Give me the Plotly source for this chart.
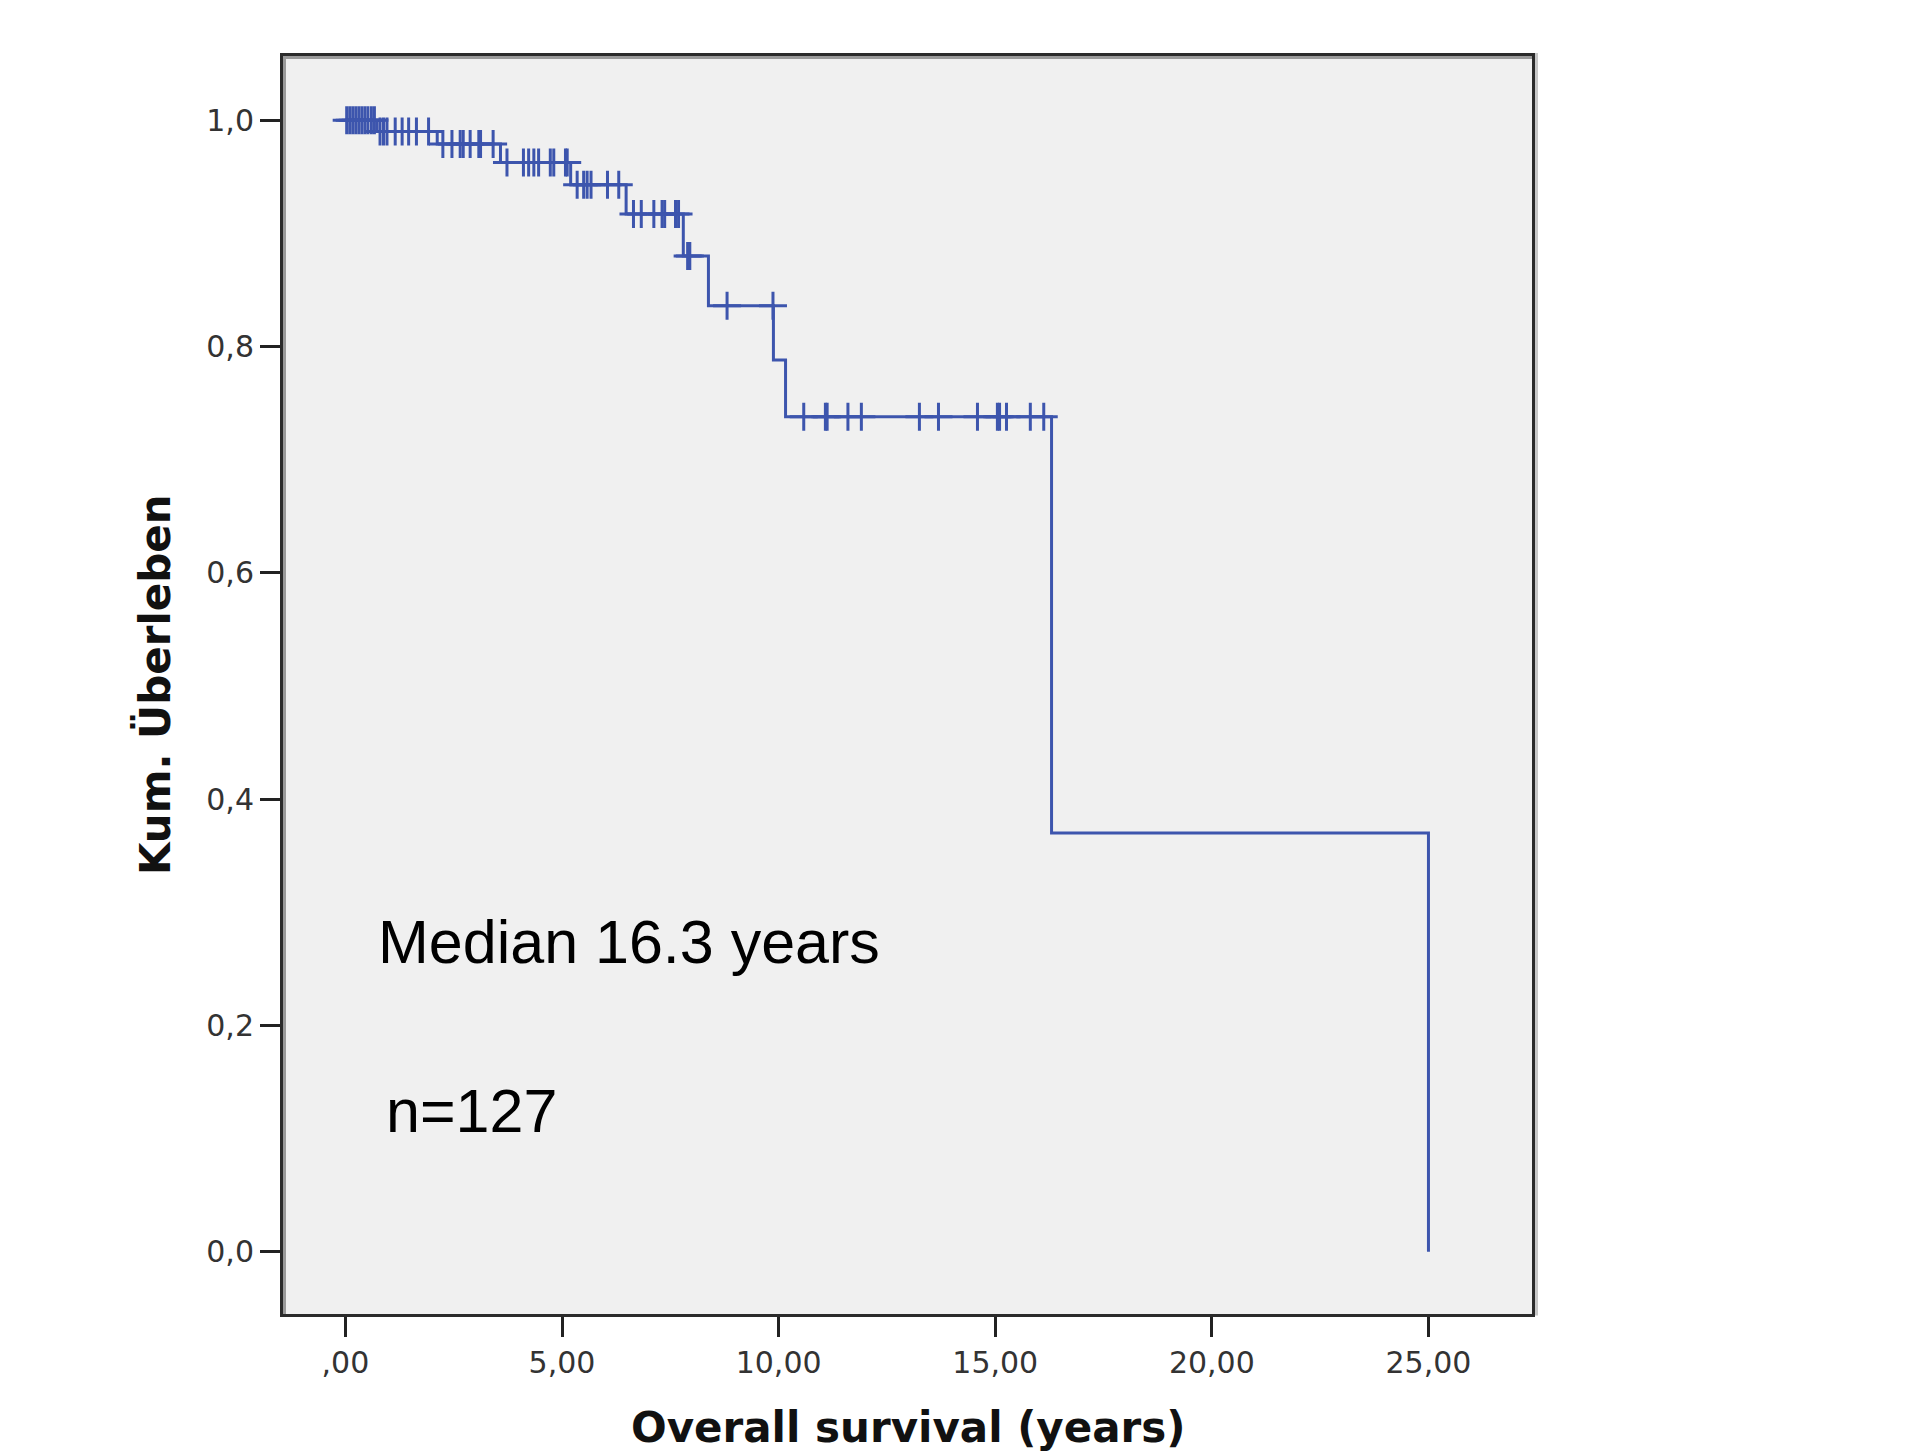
import plotly.graph_objects as go

# Kaplan-Meier overall survival, n = 127
median_years = 16.3
n_patients = 127

# step times (years) and survival level reached after each step
event_times = [0.0, 0.73, 2.12, 3.58, 5.20, 6.48, 7.80, 8.38, 9.88, 10.16, median_years, 25.0]
survival = [1.0, 0.990, 0.979, 0.9625, 0.943, 0.917, 0.880, 0.836, 0.788, 0.738, 0.370, 0.0]

# censored observations (time, survival level at that time)
censor_times = [
    0.03, 0.10, 0.17, 0.24, 0.31, 0.38, 0.45, 0.52, 0.60, 0.67,
    0.80, 0.88, 0.96, 1.15, 1.31, 1.46, 1.64, 1.92,
    2.25, 2.46, 2.65, 2.72, 2.88, 3.08, 3.12, 3.41,
    3.73, 4.11, 4.23, 4.35, 4.46, 4.73, 4.81, 5.08, 5.12,
    5.35, 5.50, 5.58, 5.67, 6.05, 6.31,
    6.65, 6.83, 7.12, 7.31, 7.37, 7.62, 7.69,
    7.90, 7.95,
    8.81, 9.87,
    10.58, 11.08, 11.12, 11.60, 11.91, 13.25, 13.69, 14.59, 15.05, 15.10, 15.26, 15.81, 16.12,
]
censor_levels = (
    [1.0] * 10
    + [0.990] * 8
    + [0.979] * 8
    + [0.9625] * 9
    + [0.943] * 6
    + [0.917] * 7
    + [0.880] * 2
    + [0.836] * 2
    + [0.738] * 13
)

x_tickvals = [0, 5, 10, 15, 20, 25]
x_ticktext = [",00", "5,00", "10,00", "15,00", "20,00", "25,00"]
y_tickvals = [0.0, 0.2, 0.4, 0.6, 0.8, 1.0]
y_ticktext = ["0,0", "0,2", "0,4", "0,6", "0,8", "1,0"]

curve_color = "#3D55AD"

fig = go.Figure()
fig.add_trace(go.Scatter(
    x=event_times, y=survival, mode="lines",
    line=dict(color=curve_color, width=3, shape="hv"),
    hoverinfo="skip", showlegend=False,
))
fig.add_trace(go.Scatter(
    x=censor_times, y=censor_levels, mode="markers",
    marker=dict(symbol="cross-thin", size=20,
                line=dict(color=curve_color, width=3)),
    hoverinfo="skip", showlegend=False,
))

W, H = 1905, 1452
ml, mr, mt, mb = 283, 373, 56, 138
pw = W - ml - mr
ph = H - mt - mb

axis_common = dict(
    showgrid=False, zeroline=False,
    showline=True, mirror=True, linecolor="#2b2b2b", linewidth=3,
    ticks="outside", ticklen=20, tickwidth=3, tickcolor="#222222",
    tickfont=dict(family="DejaVu Sans", size=30, color="#333333"),
)

fig.update_xaxes(range=[-1.44, 27.39], tickmode="array",
                 tickvals=x_tickvals, ticktext=x_ticktext, **axis_common)
fig.update_yaxes(range=[-0.055, 1.0567], tickmode="array",
                 tickvals=y_tickvals, ticktext=y_ticktext, **axis_common)

title_font = dict(family="DejaVu Sans", size=42, color="#111111", weight="bold")
label_font = dict(family="Liberation Sans, Arial", size=61, color="#000000")

fig.update_layout(
    width=W, height=H,
    margin=dict(l=ml, r=mr, t=mt, b=mb),
    paper_bgcolor="#FFFFFF", plot_bgcolor="#F0F0F0",
    annotations=[
        dict(text="Overall survival (years)", xref="paper", yref="paper",
             x=0.5, y=-(1427 - (H - mb)) / ph,
             xanchor="center", yanchor="middle", showarrow=False, font=title_font),
        dict(text="Kum. Überleben", xref="paper", yref="paper",
             x=(155 - ml) / pw, y=0.5, textangle=-90,
             xanchor="center", yanchor="middle", showarrow=False, font=title_font),
        dict(text=f"Median {median_years} years", xref="x", yref="y",
             x=0.70, y=0.274, xanchor="left", yanchor="middle",
             showarrow=False, font=label_font),
        dict(text=f"n={n_patients}", xref="x", yref="y",
             x=0.88, y=0.124, xanchor="left", yanchor="middle",
             showarrow=False, font=label_font),
    ],
    shapes=[
        # inner grey edge along the left and top of the frame
        dict(type="line", xref="paper", yref="paper",
             x0=1.5 / pw, x1=1.5 / pw, y0=0, y1=1,
             line=dict(color="#9a9a9a", width=3)),
        dict(type="line", xref="paper", yref="paper",
             x0=0, x1=1, y0=1 - 1.5 / ph, y1=1 - 1.5 / ph,
             line=dict(color="#9a9a9a", width=3)),
        # light outer edge on the right side
        dict(type="line", xref="paper", yref="paper",
             x0=1 + 4.5 / pw, x1=1 + 4.5 / pw, y0=-1.5 / ph, y1=1 + 3 / ph,
             line=dict(color="#c8c8c8", width=3)),
    ],
)

fig.write_html("out.html")
